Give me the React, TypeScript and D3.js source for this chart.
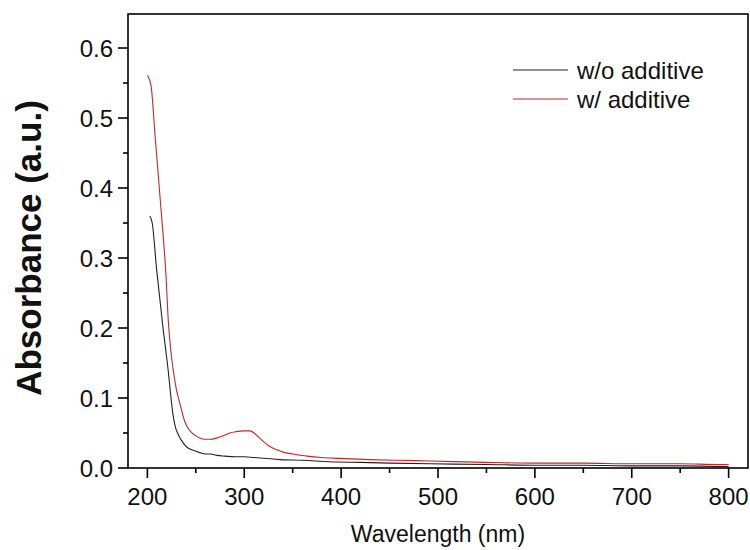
import React from "react";
import * as d3 from "d3";

const wavelengthsA = [202.5, 205, 209.6, 213, 216.4, 219, 221.6, 224, 226.7, 229, 231.5, 234, 237, 240.6, 244, 248, 254, 260, 265, 272, 280, 290, 300, 310, 320, 337, 360, 388, 420, 450, 492, 550, 600, 650, 700, 750, 800];
const absorbA = [0.360, 0.350, 0.283, 0.240, 0.197, 0.168, 0.138, 0.105, 0.074, 0.058, 0.049, 0.042, 0.036, 0.030, 0.027, 0.025, 0.022, 0.020, 0.020, 0.018, 0.017, 0.016, 0.016, 0.015, 0.014, 0.012, 0.011, 0.009, 0.008, 0.007, 0.006, 0.005, 0.004, 0.004, 0.003, 0.003, 0.002];

const wavelengthsB = [200, 203.7, 208, 212, 216, 219, 221.6, 224, 226.7, 230, 233.6, 238.7, 244, 249, 254, 259, 264.6, 272, 280, 285, 292, 299, 306, 311, 315, 319.6, 326, 333.5, 342, 350.6, 365, 380, 398.8, 430, 460, 491.7, 550, 600, 650, 700, 750, 790, 800];
const absorbB = [0.561, 0.547, 0.474, 0.405, 0.337, 0.280, 0.210, 0.170, 0.140, 0.112, 0.092, 0.066, 0.053, 0.047, 0.043, 0.041, 0.041, 0.043, 0.047, 0.050, 0.052, 0.053, 0.053, 0.049, 0.044, 0.038, 0.031, 0.026, 0.022, 0.020, 0.017, 0.015, 0.0138, 0.012, 0.011, 0.010, 0.008, 0.007, 0.007, 0.006, 0.006, 0.005, 0.005];

const seriesNames = ["w/o additive", "w/ additive"];
const seriesColors = ["#222222", "#c0272d"];

const xMajorTicks = [200, 300, 400, 500, 600, 700, 800];
const xMinorTicks = [250, 350, 450, 550, 650, 750];
const yMajorTicks = [0, 0.1, 0.2, 0.3, 0.4, 0.5, 0.6];
const yMinorTicks = [0.05, 0.15, 0.25, 0.35, 0.45, 0.55];

const W = 750;
const H = 550;
const M = { left: 128, right: 2, top: 14, bottom: 82 };

export default function App() {
  const x = d3.scaleLinear().domain([180, 820]).range([M.left, W - M.right]);
  const y = d3.scaleLinear().domain([0, 0.6486]).range([H - M.bottom, M.top]);
  const line = d3
    .line<[number, number]>()
    .x((d) => x(d[0]))
    .y((d) => y(d[1]))
    .curve(d3.curveMonotoneX);

  const dataA: [number, number][] = wavelengthsA.map((w, i) => [w, absorbA[i]]);
  const dataB: [number, number][] = wavelengthsB.map((w, i) => [w, absorbB[i]]);
  const series = [dataA, dataB];

  const x0 = M.left;
  const x1 = W - M.right;
  const y0 = H - M.bottom;
  const y1 = M.top;
  const font = "Liberation Sans, Arial, sans-serif";

  return (
    <svg
      width={W}
      height={H}
      style={{ position: "absolute", left: 0, top: 0, background: "#fff" }}
      fontFamily={font}
    >
      <rect x={0} y={0} width={W} height={H} fill="#fff" />
      {series.map((d, i) => (
        <path key={i} d={line(d) || ""} fill="none" stroke={seriesColors[i]} strokeWidth={1.1} />
      ))}
      {/* frame */}
      <rect x={x0} y={y1} width={x1 - x0} height={y0 - y1} fill="none" stroke="#000" strokeWidth={1.6} />
      {/* x ticks */}
      {xMajorTicks.map((t) => (
        <g key={"xm" + t}>
          <line x1={x(t)} x2={x(t)} y1={y0} y2={y0 + 10} stroke="#000" strokeWidth={1.6} />
          <text x={x(t)} y={y0 + 37} textAnchor="middle" fontSize={24} fill="#111">
            {t}
          </text>
        </g>
      ))}
      {xMinorTicks.map((t) => (
        <line key={"xn" + t} x1={x(t)} x2={x(t)} y1={y0} y2={y0 + 5} stroke="#000" strokeWidth={1.6} />
      ))}
      {/* y ticks */}
      {yMajorTicks.map((t) => (
        <g key={"ym" + t}>
          <line x1={x0 - 10} x2={x0} y1={y(t)} y2={y(t)} stroke="#000" strokeWidth={1.6} />
          <text x={x0 - 15} y={y(t) + 8.5} textAnchor="end" fontSize={24} fill="#111">
            {t.toFixed(1)}
          </text>
        </g>
      ))}
      {yMinorTicks.map((t) => (
        <line key={"yn" + t} x1={x0 - 5} x2={x0} y1={y(t)} y2={y(t)} stroke="#000" strokeWidth={1.6} />
      ))}
      {/* axis titles */}
      <text x={(x0 + x1) / 2} y={542} textAnchor="middle" fontSize={23} fill="#111">
        Wavelength (nm)
      </text>
      <text
        transform={`translate(41, ${(98 + 398) / 2}) rotate(-90)`}
        textAnchor="middle"
        fontSize={35}
        fontWeight="bold"
        fill="#111"
      >
        Absorbance (a.u.)
      </text>
      {/* legend */}
      {seriesNames.map((n, i) => (
        <g key={n}>
          <line x1={513} x2={568} y1={70 + i * 29} y2={70 + i * 29} stroke={seriesColors[i]} strokeWidth={1.1} />
          <text x={577} y={78.5 + i * 29} fontSize={24} fill="#111">
            {n}
          </text>
        </g>
      ))}
    </svg>
  );
}
